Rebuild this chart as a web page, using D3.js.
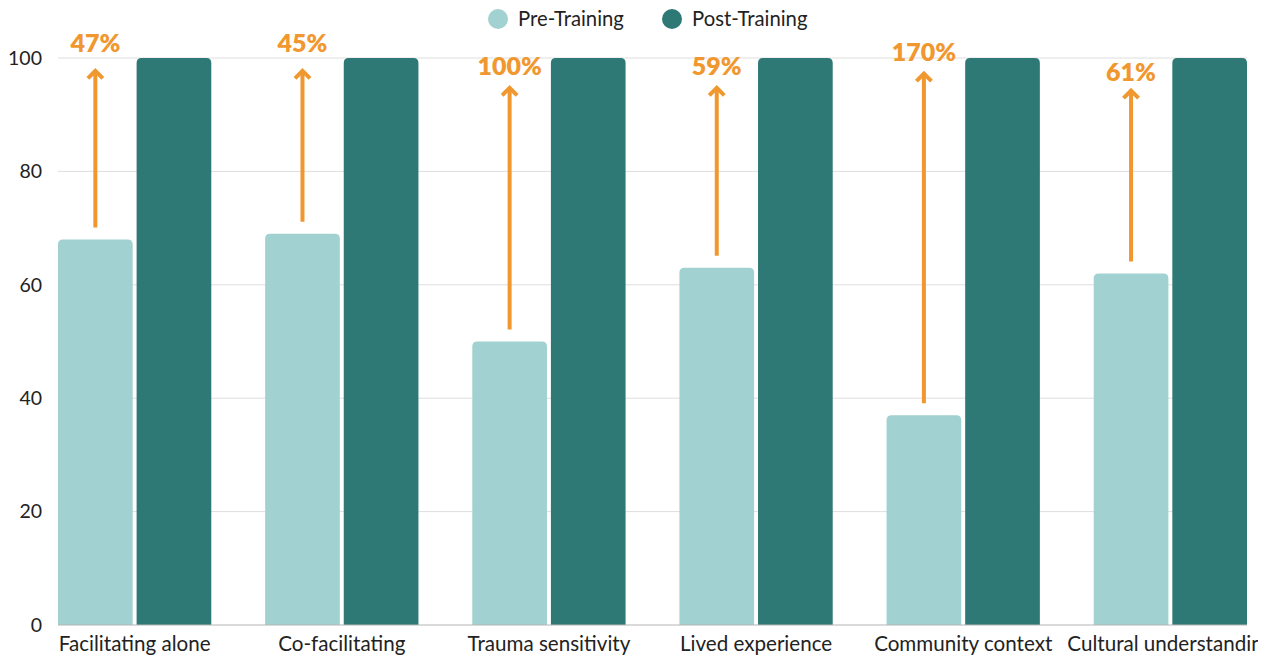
<!DOCTYPE html>
<html><head><meta charset="utf-8">
<script src="https://cdn.jsdelivr.net/npm/d3@7"></script>
<style>body{margin:0;background:#fff} svg{display:block}</style>
</head><body><svg id="c" width="1273" height="658"></svg>
<script>
const categories = ["Facilitating alone","Co-facilitating","Trauma sensitivity","Lived experience","Community context","Cultural understanding"];
const seriesNames = ["Pre-Training","Post-Training"];
const preTraining = [68,69,50,63,37,62];
const postTraining = [100,100,100,100,100,100];
const increaseLabels = ["47%","45%","100%","59%","170%","61%"];
const arrowTip = [98,98,95,95,97.5,94.5];
const labelAt = [101,101,97,97,99.5,96];
const yTicks = [0,20,40,60,80,100];

(function(){
const colors = {"Pre-Training":"#A1D1D0","Post-Training":"#2E7875"};
const orange = "#F0982F";
const font = "Lato, 'Open Sans', sans-serif";

const svg = d3.select("#c");
const mLeft = 58, mRight = 1247, mTop = 58, mBottom = 625;

const x0 = d3.scaleBand().domain(categories).range([mLeft, mRight]).paddingInner(0.26).paddingOuter(0);
const x1 = d3.scaleBand().domain(seriesNames).range([0, x0.bandwidth()]).paddingInner(0.05);
const y = d3.scaleLinear().domain([0, 100]).range([mBottom, mTop]);

// gridlines
svg.append("g").selectAll("line").data(yTicks.filter(t => t > 0)).join("line")
  .attr("x1", mLeft).attr("x2", mRight)
  .attr("y1", d => y(d)).attr("y2", d => y(d))
  .attr("stroke", "#dedede").attr("stroke-width", 1);

// y axis labels
const yAxis = svg.append("g").attr("transform", `translate(${mLeft},0)`)
  .call(d3.axisLeft(y).tickValues(yTicks).tickSize(0).tickPadding(16));
yAxis.select(".domain").remove();
yAxis.selectAll("text").attr("font-family", font).attr("font-size", 19.5).attr("fill", "#222");

function topRounded(x, yTop, w, h, r) {
  r = Math.min(r, h, w / 2);
  return `M${x},${yTop + h}V${yTop + r}Q${x},${yTop} ${x + r},${yTop}H${x + w - r}Q${x + w},${yTop} ${x + w},${yTop + r}V${yTop + h}Z`;
}

const rows = categories.map((c, i) => ({cat: c, vals: [
  {s: "Pre-Training", v: preTraining[i]},
  {s: "Post-Training", v: postTraining[i]}
]}));

const groups = svg.append("g").selectAll("g").data(rows).join("g")
  .attr("transform", d => `translate(${x0(d.cat)},0)`);
groups.selectAll("path").data(d => d.vals).join("path")
  .attr("d", d => topRounded(x1(d.s), y(d.v), x1.bandwidth(), mBottom - y(d.v), 5))
  .attr("fill", d => colors[d.s]);

// baseline
svg.append("line").attr("x1", mLeft).attr("x2", mRight).attr("y1", mBottom).attr("y2", mBottom)
  .attr("stroke", "#b5b5b5").attr("stroke-width", 1.2);

// x axis labels (clipped at right edge)
svg.append("defs").append("clipPath").attr("id", "xclip")
  .append("rect").attr("x", -100).attr("y", -20).attr("width", 1358).attr("height", 80);
const xAxis = svg.append("g").attr("transform", `translate(0,${mBottom})`).attr("clip-path", "url(#xclip)")
  .call(d3.axisBottom(x0).tickSize(0).tickPadding(11));
xAxis.select(".domain").remove();
xAxis.selectAll("text").attr("font-family", font).attr("font-size", 20.6).attr("fill", "#222");

// arrows + labels
const ann = svg.append("g");
categories.forEach((c, i) => {
  const cx = x0(c) + x1("Pre-Training") + x1.bandwidth() / 2;
  const yb = y(preTraining[i]) - 12;
  const yt = y(arrowTip[i]);
  ann.append("line").attr("x1", cx).attr("x2", cx).attr("y1", yb).attr("y2", yt + 2)
    .attr("stroke", orange).attr("stroke-width", 4);
  ann.append("path").attr("d", `M${cx - 7.5},${yt + 9}L${cx},${yt + 1.5}L${cx + 7.5},${yt + 9}`)
    .attr("fill", "none").attr("stroke", orange).attr("stroke-width", 4).attr("stroke-linecap", "butt");
  ann.append("text").attr("x", cx).attr("y", y(labelAt[i])).attr("text-anchor", "middle")
    .attr("font-family", font).attr("font-weight", 800).attr("font-size", 25)
    .attr("fill", orange).text(increaseLabels[i]);
});

// legend
const legend = svg.append("g");
const legendPos = [498, 672];
seriesNames.forEach((s, i) => {
  legend.append("circle").attr("cx", legendPos[i]).attr("cy", 19).attr("r", 10).attr("fill", colors[s]);
  legend.append("text").attr("x", legendPos[i] + 20).attr("y", 26)
    .attr("font-family", font).attr("font-size", 20.3).attr("fill", "#222").text(s);
});
})();
</script></body></html>
